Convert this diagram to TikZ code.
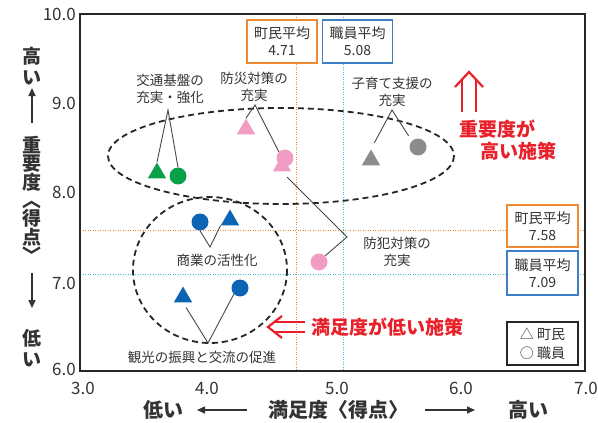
\documentclass[tikz,border=0pt]{standalone}
\usepackage{fontspec}
\setmainfont{Noto Sans CJK JP}
\usetikzlibrary{shapes.geometric,arrows.meta}
\definecolor{txt}{HTML}{333333}
\definecolor{cgreen}{HTML}{0AA047}
\definecolor{cpink}{HTML}{F29CC4}
\definecolor{cblue}{HTML}{0B64B4}
\definecolor{cgray}{HTML}{8C8C8C}
\definecolor{corange}{HTML}{EE8A33}
\definecolor{cbbox}{HTML}{3F80C4}
\definecolor{ccyan}{HTML}{3EC0DC}
\definecolor{cred}{HTML}{E8202A}
\begin{document}
\begin{tikzpicture}[x=1pt,y=-1pt,
  tri/.style={regular polygon, regular polygon sides=3, minimum size=21pt, inner sep=0pt, draw=none},
  dot/.style={circle, minimum size=17pt, inner sep=0pt, draw=none},
  lbl/.style={font=\fontsize{13.5}{17}\selectfont, align=center, text=txt, inner sep=0pt},
  tick/.style={font=\fontsize{17}{17}\selectfont, text=txt, inner sep=0pt},
  ax/.style={font=\fontsize{20}{20}\selectfont\bfseries, text=txt, inner sep=0pt},
  axv/.style={font=\fontsize{19}{#1}\selectfont\bfseries, text=txt, inner sep=0pt, align=center},
  conn/.style={draw=txt!90, line width=0.9pt},
  avgbox/.style={draw=#1, line width=1.6pt, fill=white, minimum width=70pt, minimum height=43pt, align=center, inner sep=0pt, font=\fontsize{14}{17}\selectfont, text=txt},
  guide/.style={draw=#1, line width=0.7pt, dash pattern=on 1pt off 1.5pt},
  grp/.style={draw=black!85, line width=1.8pt, dash pattern=on 6pt off 4pt},
  redtxt/.style={font=\fontsize{19}{23}\selectfont\bfseries, text=cred, inner sep=0pt, align=left},
  redarrow/.style={draw=cred, line width=2.2pt, line join=miter},
  axarrow/.style={draw=txt, line width=1.5pt, -{Triangle[length=8pt,width=7pt]}}
]
\useasboundingbox (0,0) rectangle (598,423);
% guide lines
\draw[guide=corange] (296,14) -- (296,371);
\draw[guide=ccyan] (343,14) -- (343,371);
\draw[guide=corange] (80,230) -- (585,230);
\draw[guide=ccyan] (80,274) -- (585,274);
% frame
\draw[draw=black!85, line width=2.2pt] (80,14) rectangle (585,371);
% tick labels
\node[tick, anchor=east] (y10) at (76,14) {10.0};
\node[tick, anchor=east] (y9) at (76,103) {9.0};
\node[tick, anchor=east] (y8) at (76,192) {8.0};
\node[tick, anchor=east] (y7) at (76,283) {7.0};
\node[tick, anchor=east] (y6) at (76,369) {6.0};
\node[tick] (x3) at (83,388) {3.0};
\node[tick] (x4) at (207,388) {4.0};
\node[tick] (x5) at (337,388) {5.0};
\node[tick] (x6) at (461,388) {6.0};
\node[tick, anchor=east] (x7) at (598,388) {7.0};
% group ellipses
\draw[grp] (281,156) ellipse [x radius=173, y radius=48];
\draw[grp] (210,270) ellipse [x radius=77, y radius=73];
% markers
\node[tri, fill=cgreen] (gt) at (157,173) {};
\node[dot, fill=cgreen] (gc) at (178,176) {};
\node[tri, fill=cpink] (pt1) at (246,129) {};
\node[dot, fill=cpink] (pc1) at (285,158) {};
\node[tri, fill=cpink] (pt2) at (282,166) {};
\node[dot, fill=cpink] (pc2) at (319,262) {};
\node[tri, fill=cgray] (grt) at (371,160) {};
\node[dot, fill=cgray] (grc) at (418,147) {};
\node[dot, fill=cblue] (bc1) at (200,222) {};
\node[tri, fill=cblue] (bt1) at (230,220) {};
\node[tri, fill=cblue] (bt2) at (183,297) {};
\node[dot, fill=cblue] (bc2) at (240,288) {};
% labels
\node[lbl] (lkotsu) at (170,89) {交通基盤の\\充実・強化};
\node[lbl] (lbosai) at (254,87) {防災対策の\\充実};
\node[lbl] (lkosodate) at (392,92) {子育て支援の\\充実};
\node[lbl] (lbohan) at (397,252) {防犯対策の\\充実};
\node[lbl] (lshogyo) at (217,260) {商業の活性化};
\node[lbl] (lkanko) at (202,357) {観光の振興と交流の促進};
% connector apexes
\coordinate (akotsu) at (168,110);
\coordinate (abosai) at (255,105);
\coordinate (akosodate) at (392,110);
\coordinate (abohan) at (347,237);
\coordinate (ashogyo) at (210,247);
\coordinate (akanko) at (208,343);
\coordinate (pt2end) at (287,177);
\draw[conn] (gt.north) -- (akotsu) -- (gc.north);
\draw[conn] (pt1.north) -- (abosai) -- (pc1.north west);
\draw[conn, shorten <=7pt, shorten >=6pt] (grt.north) -- (akosodate) -- (grc.north west);
\draw[conn] (pt2end) -- (abohan) -- (pc2.north east);
\draw[conn] (bc1.south) -- (ashogyo) -- (bt1.corner 2);
\draw[conn, shorten <=6pt] (bt2.south) -- (akanko) -- (bc2.south west);
% average boxes
\node[avgbox=corange] (bxa) at (282,41.5) {町民平均\\4.71};
\node[avgbox=cbbox] (bxb) at (357.5,41.5) {職員平均\\5.08};
\node[avgbox=corange, minimum width=71pt, minimum height=42pt] (bxc) at (542.5,226) {町民平均\\7.58};
\node[avgbox=cbbox, minimum width=71pt, minimum height=44pt] (bxd) at (542.5,273) {職員平均\\7.09};
\node[draw=black!85, line width=1.8pt, fill=white, minimum width=71pt, minimum height=43pt, inner sep=0pt, align=left, font=\fontsize{14}{19}\selectfont, text=txt] (legend) at (542.5,343.5) {△ 町民\\○ 職員};
% red annotations
\draw[redarrow] (455,87) -- (469,72) -- (483,87);
\draw[redarrow] (462,112) -- (462,79.5);
\draw[redarrow] (476,112) -- (476,79.5);
\node[redtxt] (rimp1) at (497,129) {重要度が};
\node[redtxt] (rimp2) at (518,151) {高い施策};
\draw[redarrow] (282,316) -- (268,327) -- (282,338);
\draw[redarrow] (305,322) -- (274.4,322);
\draw[redarrow] (305,332) -- (274.4,332);
\node[redtxt, anchor=west] (rsat) at (311,327) {満足度が低い施策};
% x axis title
\node[ax] (xlow) at (163,410) {低い};
\coordinate (xla) at (247,410);
\coordinate (xlb) at (197,410);
\draw[axarrow] (xla) -- (xlb);
\node[ax] (xtitle) at (338,410) {満足度〈得点〉};
\coordinate (xra) at (425,410);
\coordinate (xrb) at (475,410);
\draw[axarrow] (xra) -- (xrb);
\node[ax] (xhigh) at (528,410) {高い};
% y axis title (vertical)
\node[axv=21] (yhigh) at (32,66.5) {高\\い};
\coordinate (yua) at (32,123);
\coordinate (yub) at (32,88);
\draw[axarrow] (yua) -- (yub);
\node[axv=18] (ytitle) at (32,199) {重\\要\\度\\︿\\得\\点\\﹀};
\coordinate (yda) at (32,273);
\coordinate (ydb) at (32,308);
\draw[axarrow] (yda) -- (ydb);
\node[axv=21] (ylow) at (32,348.5) {低\\い};
\end{tikzpicture}
\end{document}
